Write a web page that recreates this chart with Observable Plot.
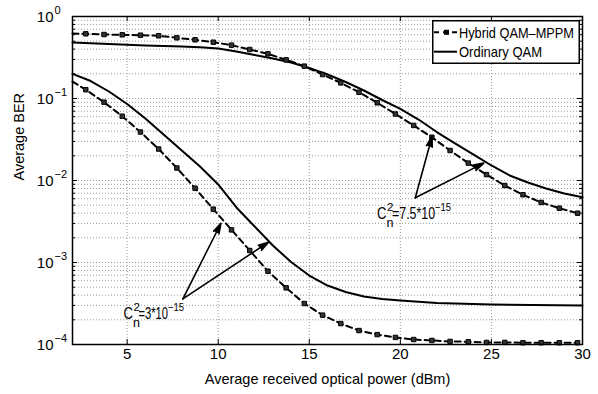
<!DOCTYPE html>
<html>
<head>
<meta charset="utf-8">
<script src="https://cdn.jsdelivr.net/npm/d3@7"></script>
<script src="https://cdn.jsdelivr.net/npm/@observablehq/plot@0.6"></script>
<style>
  html, body { margin: 0; padding: 0; background: #fff; }
  #wrap { position: relative; width: 598px; height: 394px; font-family: "Liberation Sans", Arial, Helvetica, sans-serif; }
  #legend { position: absolute; left: 432px; top: 20px; }
</style>
</head>
<body>
<div id="wrap"></div>
<script>
// ---------- data ----------
const seriesNames = ["Hybrid QAM\u2013MPPM", "Ordinary QAM"];

// Hybrid QAM-MPPM, Cn^2 = 7.5e-15 (dashed with square markers)
const hybridHighX = [2, 2.73, 3.73, 4.73, 5.73, 6.73, 7.73, 8.73, 9.73, 10.73, 11.73, 12.73, 13.73, 14.73, 15.73, 16.73, 17.73, 18.73, 19.73, 20.73, 21.73, 22.73, 23.73, 24.73, 25.73, 26.73, 27.73, 28.73, 29.73];
const hybridHighBER = [0.62, 0.615, 0.603, 0.598, 0.592, 0.582, 0.55, 0.52, 0.486, 0.447, 0.396, 0.351, 0.296, 0.248, 0.196, 0.155, 0.119, 0.0887, 0.0647, 0.0469, 0.0337, 0.0232, 0.0163, 0.0118, 0.00869, 0.0067, 0.0054, 0.00459, 0.00399];

// Hybrid QAM-MPPM, Cn^2 = 3e-15
const hybridLowX = hybridHighX;
const hybridLowBER = [0.161, 0.128, 0.0902, 0.0608, 0.039, 0.0242, 0.0142, 0.00805, 0.00447, 0.0025, 0.0014, 0.000783, 0.000491, 0.000316, 0.000228, 0.00018, 0.000148, 0.000132, 0.000122, 0.000115, 0.000112, 0.000109, 0.000108, 0.000106, 0.000106, 0.000105, 0.000105, 0.000105, 0.000105];

// Ordinary QAM, Cn^2 = 7.5e-15 (solid)
const ordHighX = [2, 4, 6, 8, 9, 10, 11, 12, 13, 14, 15, 16, 17, 18, 19, 20, 21, 22, 23, 24, 25, 26, 27, 28, 29, 30];
const ordHighBER = [0.482, 0.462, 0.443, 0.431, 0.422, 0.407, 0.374, 0.339, 0.3075, 0.2748, 0.2355, 0.1962, 0.159, 0.1252, 0.0959, 0.0749, 0.0554, 0.039, 0.0283, 0.0208, 0.01524, 0.01151, 0.00945, 0.00799, 0.00694, 0.00626];

// Ordinary QAM, Cn^2 = 3e-15
const ordLowX = [2, 3, 4, 5, 6, 7, 8, 9, 10, 11, 12, 13, 14, 15, 16, 17, 18, 19, 20, 22, 25, 30];
const ordLowBER = [0.2, 0.1634, 0.1217, 0.0857, 0.057, 0.0364, 0.0232, 0.01482, 0.00894, 0.00469, 0.00275, 0.00161, 0.001014, 0.000694, 0.000524, 0.000437, 0.000385, 0.000359, 0.000344, 0.000321, 0.000307, 0.000299];

// axes
const xTicks = [5, 10, 15, 20, 25, 30];
const yTicks = [1e-4, 1e-3, 1e-2, 1e-1, 1];
const yTickExponents = ["\u22124", "\u22123", "\u22122", "\u22121", "0"];
const xLabel = "Average received optical power (dBm)";
const yLabel = "Average BER";

// annotations
const annotations = [
  {x: 18.72, y: 0.003345, value: "=7.5*10", exp: "\u221215"},
  {x: 4.797, y: 0.0002046, value: "=3*10", exp: "\u221215"}
];
const arrowFromX = [20.82, 20.82, 8.06, 8.06];
const arrowFromY = [0.00615, 0.00615, 0.00036, 0.00036];
const arrowToX = [21.74, 24.58, 10.15, 12.76];
const arrowToY = [0.0344, 0.0163, 0.00301, 0.00177];

// ---------- build tables ----------
const zip = (xs, ys) => xs.map((x, i) => ({x, y: ys[i]}));
const hybridHigh = zip(hybridHighX, hybridHighBER);
const hybridLow = zip(hybridLowX, hybridLowBER);
const ordHigh = zip(ordHighX, ordHighBER);
const ordLow = zip(ordLowX, ordLowBER);
const arrows = arrowFromX.map((x1, i) => ({x1, y1: arrowFromY[i], x2: arrowToX[i], y2: arrowToY[i]}));

const yMinor = [];
for (const d of yTicks.slice(0, -1)) for (let k = 2; k <= 9; k++) yMinor.push(d * k);
const yGrid = yMinor.concat(yTicks.slice(1, -1));

const W = 598, H = 394, ML = 72, MR = 16, MT = 16, MB = 50;
const innerW = W - ML - MR, innerH = H - MT - MB;
const FONT = "Liberation Sans, Arial, Helvetica, sans-serif";
const gridStyle = {stroke: "#9a9a9a", strokeWidth: 1, strokeDasharray: "1,2"};
// horizontal layout of the annotation pieces (text widths of the narrow MATLAB font)
const annLayout = {supDx: 10, valueDx: 15, valueWidth: {"=7.5*10": 43, "=3*10": 29.5}, expWidth: 16, cWidth: 9.5};

const annotationMarks = annotations.flatMap(a => [
  Plot.text([a], {x: "x", y: "y", text: () => "C", lineAnchor: "bottom", textAnchor: "start", fontSize: 16}),
  Plot.text([a], {x: "x", y: "y", text: () => "2", lineAnchor: "bottom", textAnchor: "start", fontSize: 11.5, dx: annLayout.supDx, dy: -8.5}),
  Plot.text([a], {x: "x", y: "y", text: () => "n", lineAnchor: "bottom", textAnchor: "start", fontSize: 12.5, dx: annLayout.supDx - 0.5, dy: 7.5}),
  Plot.text([a], {x: "x", y: "y", text: "value", lineAnchor: "bottom", textAnchor: "start", fontSize: 16, dx: annLayout.valueDx}),
  Plot.text([a], {x: "x", y: "y", text: "exp", lineAnchor: "bottom", textAnchor: "start", fontSize: 11.5,
    dx: annLayout.valueDx + annLayout.valueWidth[a.value], dy: -8.5})
]);

const marks = [
  Plot.ruleX(xTicks.slice(0, -1), gridStyle),
  Plot.ruleY(yGrid, gridStyle),
  // ticks (inside, MATLAB style)
  Plot.tickX(xTicks, {x: d => d, insetTop: innerH - 5, stroke: "black"}),
  Plot.tickX(xTicks, {x: d => d, insetBottom: innerH - 5, stroke: "black"}),
  Plot.tickY(yTicks, {y: d => d, insetRight: innerW - 5, stroke: "black"}),
  Plot.tickY(yTicks, {y: d => d, insetLeft: innerW - 5, stroke: "black"}),
  Plot.tickY(yMinor, {y: d => d, insetRight: innerW - 3, stroke: "black"}),
  Plot.tickY(yMinor, {y: d => d, insetLeft: innerW - 3, stroke: "black"}),
  // curves
  Plot.line(ordHigh, {x: "x", y: "y", stroke: "black", strokeWidth: 2}),
  Plot.line(ordLow, {x: "x", y: "y", stroke: "black", strokeWidth: 2}),
  Plot.line(hybridHigh, {x: "x", y: "y", stroke: "black", strokeWidth: 2, strokeDasharray: "6,4"}),
  Plot.line(hybridLow, {x: "x", y: "y", stroke: "black", strokeWidth: 2, strokeDasharray: "6,4"}),
  Plot.dot(hybridHigh.slice(1), {x: "x", y: "y", symbol: "square", r: 2.5, fill: "#333", stroke: "black", strokeWidth: 1}),
  Plot.dot(hybridLow.slice(1), {x: "x", y: "y", symbol: "square", r: 2.5, fill: "#333", stroke: "black", strokeWidth: 1}),
  // arrows
  Plot.arrow(arrows, {x1: "x1", y1: "y1", x2: "x2", y2: "y2", stroke: "black", strokeWidth: 1.6, headLength: 10, headAngle: 32}),
  ...annotationMarks,
  // frame
  Plot.frame({stroke: "black", strokeWidth: 1.5}),
  // tick labels
  Plot.text(xTicks, {x: d => d, frameAnchor: "bottom", dy: 14.5, text: d => String(d), fontSize: 15}),
  Plot.text(yTicks, {y: d => d, frameAnchor: "left", dx: -19, dy: 1, textAnchor: "end", text: () => "10", fontSize: 15}),
  Plot.text(yTicks, {y: d => d, frameAnchor: "left", dx: -18, dy: -6, textAnchor: "start", text: (d, i) => yTickExponents[i], fontSize: 11}),
  // axis labels
  Plot.text([xLabel], {frameAnchor: "bottom", dy: 39, text: d => d, fontSize: 14.5}),
  Plot.text([yLabel], {frameAnchor: "left", dx: -53, rotate: -90, text: d => d, fontSize: 14.5})
];

const chart = Plot.plot({
  width: W, height: H,
  marginLeft: ML, marginRight: MR, marginTop: MT, marginBottom: MB,
  style: {fontFamily: FONT, color: "black", background: "white", overflow: "visible"},
  x: {domain: [2, 30], axis: null},
  y: {type: "log", domain: [1e-4, 1], axis: null},
  marks
});
const wrap = document.getElementById("wrap");
wrap.appendChild(chart);

const svgSel = d3.select(chart.tagName.toLowerCase() === "svg" ? chart : chart.querySelector("svg"));
// filled arrow heads (the head sub-path closes into a triangle when filled)
svgSel.selectAll('g[aria-label="arrow"] path').attr("fill", "black");
// condense annotation texts to the narrow font widths of the original
svgSel.selectAll("text").each(function () {
  const t = this.textContent;
  let w = null;
  if (annLayout.valueWidth[t] !== undefined) w = annLayout.valueWidth[t];
  else if (t === "\u221215") w = annLayout.expWidth;
  else if (t === "C") w = annLayout.cWidth;
  if (w !== null) d3.select(this).attr("textLength", w).attr("lengthAdjust", "spacingAndGlyphs");
});

// ---------- legend (overlay inside the axes box) ----------
const legendWidths = [115, 83];
const lg = d3.create("svg").attr("id", "legend").attr("width", 148).attr("height", 44)
  .style("font-family", FONT);
lg.append("rect").attr("x", 0.75).attr("y", 0.75).attr("width", 146.5).attr("height", 42.5)
  .attr("fill", "white").attr("stroke", "black").attr("stroke-width", 1.5);
const rows = [12.3, 31.7];
seriesNames.forEach((name, i) => {
  const g = lg.append("g").attr("transform", `translate(0,${rows[i]})`);
  g.append("line").attr("x1", 2).attr("x2", 25).attr("y1", 0).attr("y2", 0)
    .attr("stroke", "black").attr("stroke-width", 2)
    .attr("stroke-dasharray", i === 0 ? "5,4" : null);
  if (i === 0) g.append("rect").attr("x", 12).attr("y", -2.5).attr("width", 5).attr("height", 5).attr("fill", "black");
  g.append("text").attr("x", 27).attr("y", 0).attr("dy", "0.35em").attr("font-size", 15)
    .attr("textLength", legendWidths[i]).attr("lengthAdjust", "spacingAndGlyphs").text(name);
});
wrap.appendChild(lg.node());
</script>
</body>
</html>
